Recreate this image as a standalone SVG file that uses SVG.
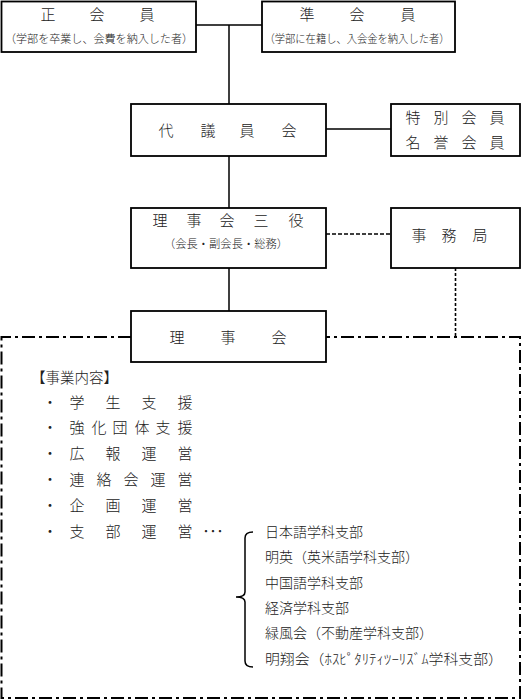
<svg xmlns="http://www.w3.org/2000/svg" width="522" height="700" viewBox="0 0 522 700">
<style>
.box{fill:#fff;stroke:#000;stroke-width:1.8}
.ln{fill:none;stroke:#000;stroke-width:1.5}
.dash{fill:none;stroke:#000;stroke-width:1.6;stroke-dasharray:4 2}
.dot{fill:none;stroke:#000;stroke-width:1.6;stroke-dasharray:3 2}
.dd{fill:none;stroke:#000;stroke-width:2;stroke-dasharray:13 4 3 4}
text{font-family:"Noto Sans CJK JP","Noto Sans CJK SC",sans-serif;fill:#222;font-weight:300}
.t{font-size:15px;text-anchor:middle}
.s{font-size:11.5px;text-anchor:middle}
.b{font-size:14.5px}
.l{font-size:14px}
</style>
<rect width="522" height="700" fill="#fff"/>
<g id="connectors">
<path class="ln" d="M196,25 H262 M229,25 V104 M229,156 V208 M229,268 V311 M326,129 H391"/>
<path class="dash" d="M326,234 H391"/>
<path class="dot" d="M455.5,268 V337"/>
<path class="dd" d="M131,337 H1.5 V698 H520 V337 H326"/>
</g>
<g id="seikaiin">
<rect class="box" x="1.5" y="1.5" width="194.5" height="50.5"/>
<text class="t" x="48 97 147" y="20">正会員</text>
<text class="s" x="99" y="43" textLength="188" lengthAdjust="spacingAndGlyphs">（学部を卒業し、会費を納入した者）</text>
</g>
<g id="junkaiin">
<rect class="box" x="262" y="1.5" width="193" height="50.5"/>
<text class="t" x="307 357 408" y="20">準会員</text>
<text class="s" x="357" y="43" textLength="185" lengthAdjust="spacingAndGlyphs">（学部に在籍し、入会金を納入した者）</text>
</g>
<g id="daigiinkai">
<rect class="box" x="131" y="104" width="195" height="52"/>
<text class="t" x="166 208 247 289" y="135.5">代議員会</text>
</g>
<g id="tokubetsu">
<rect class="box" x="391" y="104" width="129" height="52"/>
<text class="t" x="413 441 469 497" y="122.5">特別会員</text>
<text class="t" x="413 441 469 497" y="147.5">名誉会員</text>
</g>
<g id="rijikai-sanyaku">
<rect class="box" x="131" y="208" width="195" height="60"/>
<text class="t" x="160 194 227 261 296" y="225.5">理事会三役</text>
<text class="s" x="226" y="248" textLength="124" lengthAdjust="spacingAndGlyphs">（会長・副会長・総務）</text>
</g>
<g id="jimukyoku">
<rect class="box" x="391" y="208" width="129" height="60"/>
<text class="t" x="419 449 480" y="240.5">事務局</text>
</g>
<g id="rijikai">
<rect class="box" x="131" y="311" width="195" height="51"/>
<text class="t" x="177 228 279" y="342.5">理事会</text>
</g>
<g id="jigyo">
<text class="b" x="31" y="383">【事業内容】</text>
<text class="t" x="50" y="407.5">・</text>
<text class="t" x="77 113 149 185" y="407.5">学生支援</text>
<text class="t" x="50" y="433">・</text>
<text class="t" x="77 99 120 142 163 185" y="433">強化団体支援</text>
<text class="t" x="50" y="459">・</text>
<text class="t" x="77 113 149 185" y="459">広報運営</text>
<text class="t" x="50" y="485">・</text>
<text class="t" x="77 104 131 158 185" y="485">連絡会運営</text>
<text class="t" x="50" y="510.5">・</text>
<text class="t" x="77 113 149 185" y="510.5">企画運営</text>
<text class="t" x="50" y="536.5">・</text>
<text class="t" x="77 113 149 185" y="536.5">支部運営</text>
<text class="t" x="206 213 220" y="536.5">･･･</text>
<path class="ln" d="M253,532 Q245,532 245,538 L245,592 Q245,597 236,597 Q245,597 245,602 L245,661 Q245,667 253,667"/>
<text class="l" x="265" y="537">日本語学科支部</text>
<text class="l" x="265" y="562">明英（英米語学科支部）</text>
<text class="l" x="265" y="588">中国語学科支部</text>
<text class="l" x="265" y="613">経済学科支部</text>
<text class="l" x="265" y="638">緑風会（不動産学科支部）</text>
<text class="l" x="265" y="664" textLength="238" lengthAdjust="spacingAndGlyphs">明翔会（ﾎｽﾋﾟﾀﾘﾃｨﾂｰﾘｽﾞﾑ学科支部）</text>
</g>
</svg>
